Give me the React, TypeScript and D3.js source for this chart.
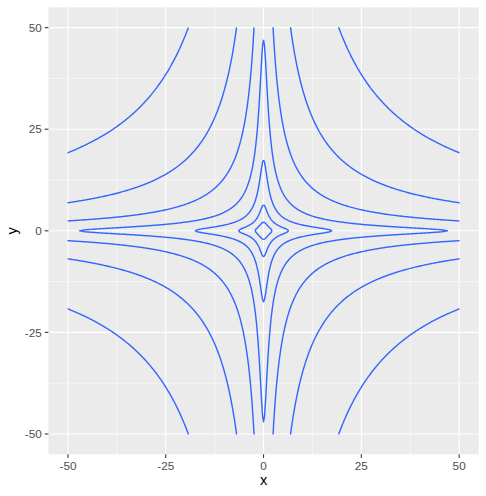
import React from 'react';
import * as d3 from 'd3';

const W = 486;
const H = 496;

const xTicks = [-50, -25, 0, 25, 50];
const yTicks = [-50, -25, 0, 25, 50];
const xMinor = [-37.5, -12.5, 12.5, 37.5];
const yMinor = [-37.5, -12.5, 12.5, 37.5];
const xLimits = [-50, 50];
const yLimits = [-50, 50];
// contour break levels of z = log((x^2+1)(y^2+1))
const levels = [1.7, 3.72, 5.72, 7.7, 9.76, 11.71, 13.74];
const gridN = 401;

function surface(x: number, y: number) {
  return Math.log((x * x + 1) * (y * y + 1));
}

const margin = { left: 48.4, right: 7.3, top: 7.3, bottom: 41.7 };
const panelL = margin.left;
const panelR = W - margin.right;
const panelT = margin.top;
const panelB = H - margin.bottom;

const xr = xLimits[1] - xLimits[0];
const yr = yLimits[1] - yLimits[0];
const xScale = d3.scaleLinear().domain([xLimits[0] - xr * 0.05, xLimits[1] + xr * 0.05]).range([panelL, panelR]);
const yScale = d3.scaleLinear().domain([yLimits[0] - yr * 0.05, yLimits[1] + yr * 0.05]).range([panelB, panelT]);

function buildPaths(): string[] {
  const n = gridN;
  const sx = (xLimits[1] - xLimits[0]) / (n - 1);
  const sy = (yLimits[1] - yLimits[0]) / (n - 1);
  const values = new Array(n * n);
  for (let j = 0; j < n; j++) {
    const y = yLimits[0] + j * sy;
    for (let i = 0; i < n; i++) {
      const x = xLimits[0] + i * sx;
      values[j * n + i] = surface(x, y);
    }
  }
  const cs = d3.contours().size([n, n]).thresholds(levels)(values);
  const side = (p: number[]) => {
    const s: string[] = [];
    if (p[0] <= 1e-9) s.push('L');
    if (p[0] >= n - 1e-9) s.push('R');
    if (p[1] <= 1e-9) s.push('B');
    if (p[1] >= n - 1e-9) s.push('T');
    return s;
  };
  const toPx = (p: number[]) => {
    let x = xLimits[0] + (p[0] - 0.5) * sx;
    let y = yLimits[0] + (p[1] - 0.5) * sy;
    x = Math.max(xLimits[0], Math.min(xLimits[1], x));
    y = Math.max(yLimits[0], Math.min(yLimits[1], y));
    return [xScale(x), yScale(y)];
  };
  const out: string[] = [];
  cs.forEach((c) => {
    let d = '';
    c.coordinates.forEach((poly) => {
      poly.forEach((ring) => {
        let penDown = false;
        for (let k = 0; k < ring.length - 1; k++) {
          const a = ring[k];
          const b = ring[k + 1];
          const sa = side(a);
          const sb = side(b);
          const boundary = sa.some((s) => sb.includes(s));
          if (boundary) {
            penDown = false;
            continue;
          }
          const pa = toPx(a);
          const pb = toPx(b);
          if (!penDown) {
            d += `M${pa[0].toFixed(2)},${pa[1].toFixed(2)}`;
            penDown = true;
          }
          d += `L${pb[0].toFixed(2)},${pb[1].toFixed(2)}`;
        }
      });
    });
    out.push(d);
  });
  return out;
}

export default function App() {
  const paths = React.useMemo(buildPaths, []);
  const font = 'Liberation Sans, Arial, sans-serif';
  return (
    <svg width={W} height={H} style={{ display: 'block', position: 'absolute', left: 0, top: 0 }}>
      <rect x={0} y={0} width={W} height={H} fill="#ffffff" />
      <defs>
        <clipPath id="panel">
          <rect x={panelL} y={panelT} width={panelR - panelL} height={panelB - panelT} />
        </clipPath>
      </defs>
      <rect x={panelL} y={panelT} width={panelR - panelL} height={panelB - panelT} fill="#EBEBEB" />
      {xMinor.map((v) => (
        <line key={'xm' + v} x1={xScale(v)} x2={xScale(v)} y1={panelT} y2={panelB} stroke="#fff" strokeWidth={0.53} />
      ))}
      {yMinor.map((v) => (
        <line key={'ym' + v} y1={yScale(v)} y2={yScale(v)} x1={panelL} x2={panelR} stroke="#fff" strokeWidth={0.53} />
      ))}
      {xTicks.map((v) => (
        <line key={'xM' + v} x1={xScale(v)} x2={xScale(v)} y1={panelT} y2={panelB} stroke="#fff" strokeWidth={1.07} />
      ))}
      {yTicks.map((v) => (
        <line key={'yM' + v} y1={yScale(v)} y2={yScale(v)} x1={panelL} x2={panelR} stroke="#fff" strokeWidth={1.07} />
      ))}
      <g clipPath="url(#panel)">
        {paths.map((d, i) => (
          <path key={i} d={d} fill="none" stroke="#3366FF" strokeWidth={1.42} strokeLinejoin="round" strokeLinecap="butt" />
        ))}
      </g>
      {xTicks.map((v) => (
        <g key={'xt' + v}>
          <line x1={xScale(v)} x2={xScale(v)} y1={panelB} y2={panelB + 3.67} stroke="#333333" strokeWidth={1.07} />
          <text x={xScale(v)} y={470} textAnchor="middle" fontFamily={font} fontSize={11.73} fill="#4D4D4D">
            {v}
          </text>
        </g>
      ))}
      {yTicks.map((v) => (
        <g key={'yt' + v}>
          <line x1={panelL - 3.67} x2={panelL} y1={yScale(v)} y2={yScale(v)} stroke="#333333" strokeWidth={1.07} />
          <text x={panelL - 6.6} y={yScale(v) + 4.2} textAnchor="end" fontFamily={font} fontSize={11.73} fill="#4D4D4D">
            {v}
          </text>
        </g>
      ))}
      <text x={(panelL + panelR) / 2} y={485} textAnchor="middle" fontFamily={font} fontSize={14.67} fill="#000">
        x
      </text>
      <text
        transform={`translate(17,${(panelT + panelB) / 2}) rotate(-90)`}
        textAnchor="middle"
        fontFamily={font}
        fontSize={14.67}
        fill="#000"
      >
        y
      </text>
    </svg>
  );
}
